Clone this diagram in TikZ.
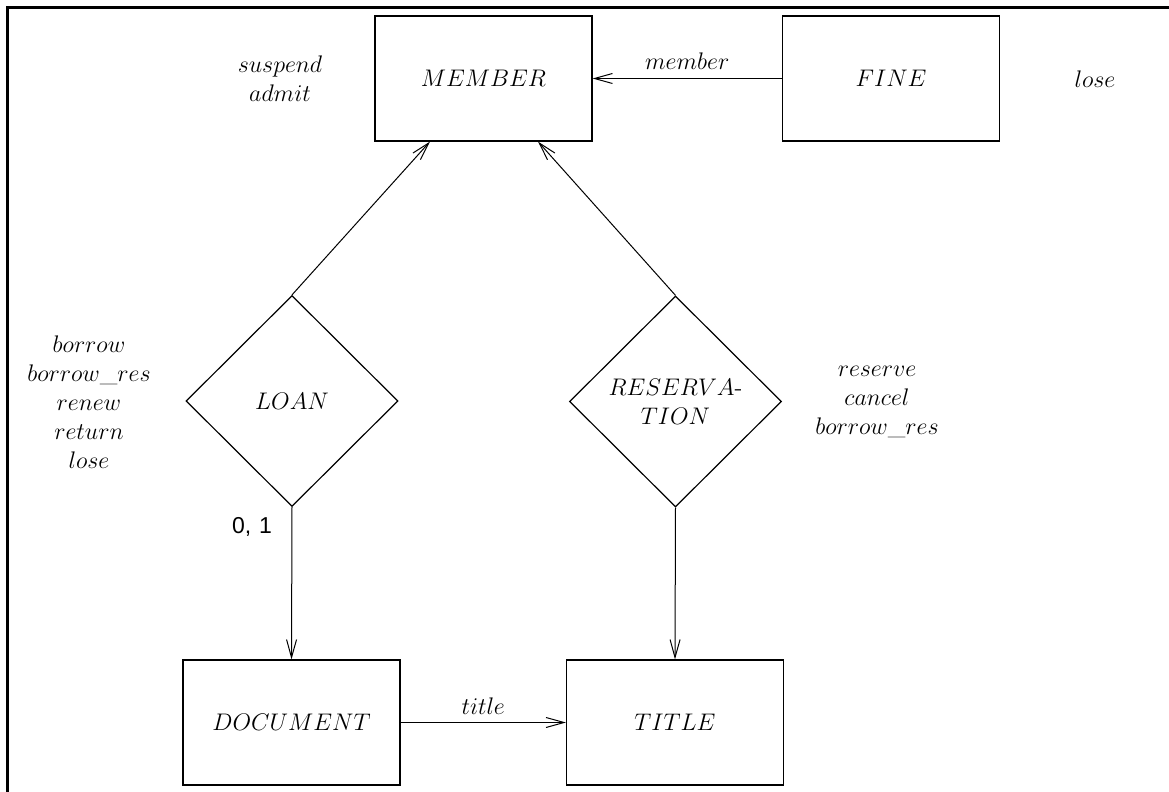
\documentclass[tikz,border=0pt]{standalone}
\usepackage{fontspec}
\newfontfamily\labelsans{Liberation Sans}
\usetikzlibrary{arrows.meta,shapes.geometric,calc}
\begin{document}
\begin{tikzpicture}[x=0.5pt,y=-0.5pt,
  font=\fontsize{12}{14.5}\selectfont,
  line width=0.6pt,
  entity/.style={draw, rectangle, minimum width=108.5pt, minimum height=62.5pt, inner sep=0pt},
  relation/.style={draw, diamond, aspect=1, minimum width=106pt, minimum height=105.5pt, inner sep=0pt, align=center},
  opslist/.style={align=center, inner sep=0pt},
  arr/.style={-{Straight Barb[length=9pt,width=5pt]}, line width=0.5pt},
  frame/.style={line width=1.6pt},
  card/.style={font=\labelsans\fontsize{11.5}{13}\selectfont, inner sep=0pt}]
\useasboundingbox (0,0) rectangle (1169,792);

% page frame (left and top rules)
\draw[frame] (7.5,792) coordinate (fbl) -- (7.5,7.5) coordinate (ftl) -- (1169,7.5) coordinate (ftr);

% entities
\node[entity] (member) at (483.5,78.5) {$MEMBER$};
\node[entity] (fine) at (891,78.5) {$FINE$};
\node[entity] (document) at (291.5,722.5) {$DOCUMENT$};
\node[entity] (title) at (675,722.5) {$TITLE$};

% relationships
\node[relation] (loan) at (292,401) {$LOAN$};
\node[relation] (reservation) at (675.5,401.5) {$RESERVA$-\\$TION$};

% operation lists
\node[opslist] (memberops) at (280,79) {$suspend$\\$admit$};
\node[opslist] (fineops) at (1095,79) {$lose$};
\node[opslist] (loanops) at (89,402) {$borrow$\\$borrow\_res$\\$renew$\\$return$\\$lose$};
\node[opslist] (resops) at (877,402) {$reserve$\\$cancel$\\$borrow\_res$};

% connectors
\draw[arr] (fine.west) -- node[above, inner sep=4pt] (memberlbl) {$member$} (member.east);
\draw[arr] (loan.north) -- ($(member.south)+(-53.5,0)$);
\draw[arr] (reservation.north) -- ($(member.south)+(54.5,0)$);
\draw[arr] (loan.south) -- (document.north);
\draw[arr] (reservation.south) -- (title.north);
\draw[arr] (document.east) -- node[above, inner sep=4pt] (titlelbl) {$title$} (title.west);

% cardinality
\node[card] (loancard) at (252,527) {0,\,\,1};
\end{tikzpicture}
\end{document}
